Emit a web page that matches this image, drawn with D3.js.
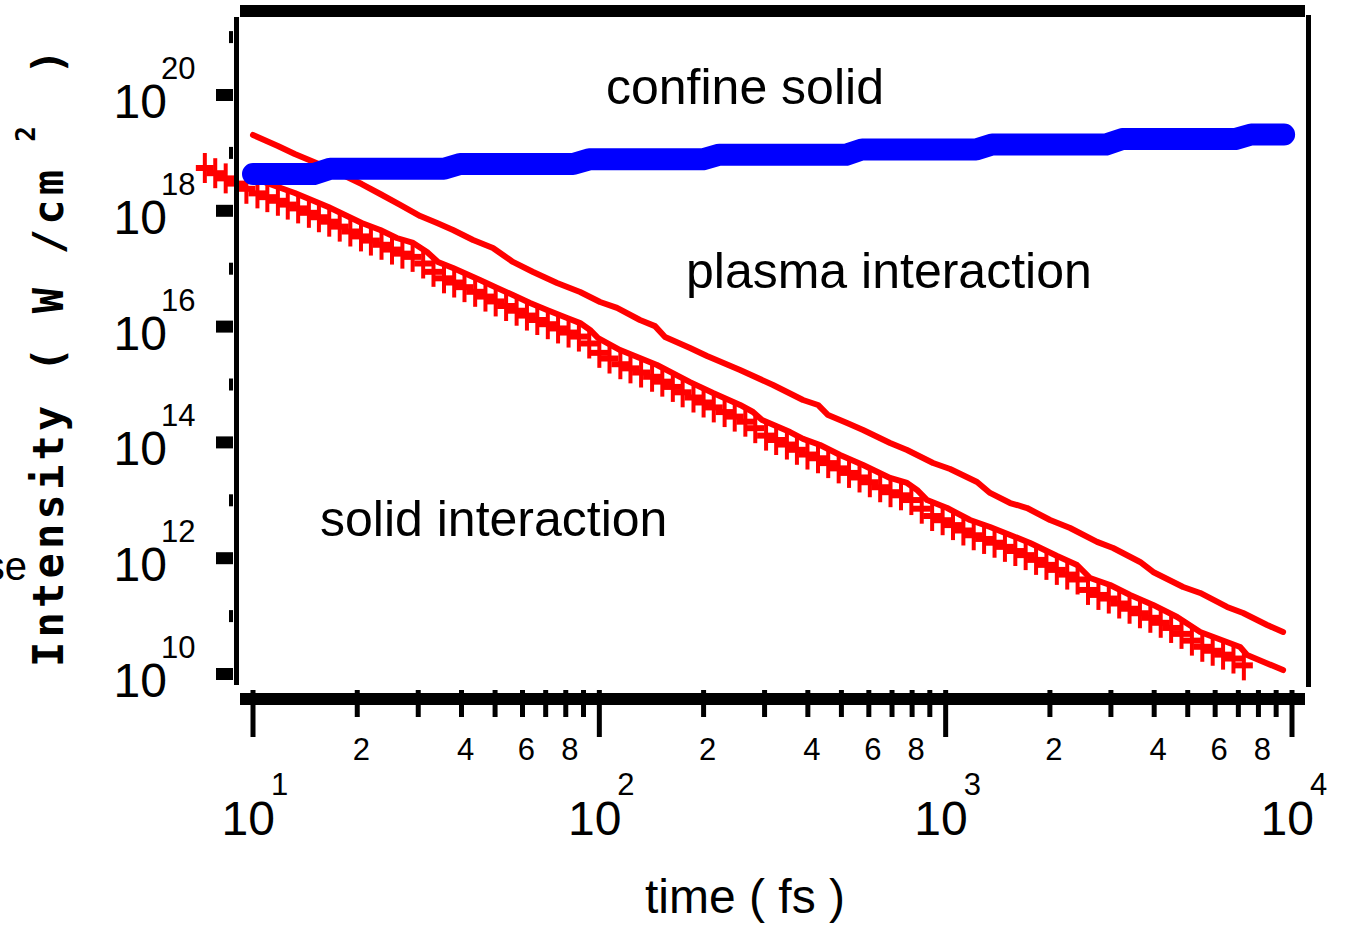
<!DOCTYPE html>
<html>
<head>
<meta charset="utf-8">
<script src="https://cdn.jsdelivr.net/npm/d3@7"></script>
<style>
body { margin: 0; background: #ffffff; }
text { font-family: "Liberation Sans", Arial, sans-serif; fill: #000000; }
</style>
</head>
<body>
<script>
// upper solid red curve
let upperTime = [10, 11.8, 13.2, 16.5, 20.6, 23.3, 26.6, 30.4, 34.0, 37.8, 43.2, 49.3, 52.7, 56.3, 64.4,
  75.5, 88.0, 100.5, 112.5, 131, 144.8, 154.8, 182.8, 204.6, 254.9, 317.4, 387.4, 428, 457.6, 519.2,
  577.5, 691, 773.6, 919.7, 1030, 1232, 1343, 1535, 1718, 2002, 2287, 2736, 3044, 3642, 3972,
  4850, 5430, 6495, 7225, 8475, 9425];
let upperIntensity = [2.04e19, 1.32e19, 9.58e18, 5.48e18, 2.90e18, 1.95e18, 1.26e18, 8.13e17, 6.15e17, 4.66e17,
  3.13e17, 2.28e17, 1.72e17, 1.31e17, 8.77e16, 5.66e16, 3.96e16, 2.66e16, 2.10e16, 1.30e16,
  1.02e16, 6.61e15, 4.27e15, 3.11e15, 1.78e15, 9.80e14, 5.40e14, 4.43e14, 2.97e14, 2.16e14,
  1.64e14, 9.77e13, 7.39e13, 4.41e13, 3.47e13, 2.07e13, 1.34e13, 8.98e12, 7.36e12, 4.57e12,
  3.32e12, 1.91e12, 1.50e12, 8.60e11, 5.78e11, 3.18e11, 2.51e11, 1.44e11, 1.13e11, 7.02e10, 5.32e10];

// lower solid red curve
let lowerTime = [10, 13.2, 16.5, 20.6, 23.3, 26.0, 29.0, 31.8, 34.2, 37.8, 45.2, 50.7, 56.3, 63.1, 70.6,
  80.7, 88.0, 94.0, 99.2, 114.8, 146.7, 182.8, 213, 254.9, 277.8, 295, 355.4, 387.4, 433.9, 495.6,
  577.5, 691, 773.6, 826.7, 883.8, 1010, 1176, 1343, 1535, 1753, 2098, 2396, 2612, 2984, 3408,
  3972, 4660, 5430, 7083, 7420, 9425];
let lowerIntensity = [3.69e18, 2.03e18, 1.16e18, 6.15e17, 4.66e17, 3.39e17, 2.78e17, 1.94e17, 1.31e17, 1.03e17,
  6.38e16, 4.64e16, 3.52e16, 2.56e16, 1.94e16, 1.41e16, 1.15e16, 8.74e15, 6.35e15, 3.94e15,
  2.17e15, 1.10e15, 7.13e14, 4.43e14, 3.35e14, 2.44e14, 1.51e14, 1.15e14, 9.02e13, 6.06e13,
  4.07e13, 2.43e13, 1.99e13, 1.51e13, 1.01e13, 7.36e12, 4.57e12, 3.46e12, 2.52e12, 1.83e12,
  1.09e12, 7.63e11, 4.55e11, 3.44e11, 2.31e11, 1.56e11, 9.66e10, 5.32e10, 2.93e10, 2.13e10, 1.17e10];

// "+" marker series
let markerTime = [7.26, 7.78, 8.34, 8.93, 9.57, 10.3, 11.0, 11.8, 12.6, 13.5,
  14.5, 15.5, 16.6, 17.8, 19.1, 20.5, 21.9, 23.5, 25.2, 27.0,
  28.9, 31.0, 33.2, 35.6, 38.1, 40.8, 43.8, 46.9, 50.2, 53.8,
  57.7, 61.8, 66.2, 71.0, 76.0, 81.5, 87.3, 93.5, 100, 107,
  115, 123, 132, 142, 152, 163, 174, 187, 200, 214,
  230, 246, 264, 282, 303, 324, 348, 372, 399, 428,
  458, 491, 526, 564, 604, 647, 693, 743, 796, 853,
  914, 980, 1050, 1125, 1205, 1291, 1384, 1483, 1589, 1702,
  1824, 1954, 2094, 2244, 2404, 2576, 2761, 2958, 3170, 3396,
  3639, 3899, 4178, 4477, 4797, 5140, 5508, 5902, 6324, 6776, 7261];
let markerIntensity = [5.48e18, 4.46e18, 3.63e18, 2.95e18, 2.40e18, 2.00e18, 1.72e18, 1.49e18, 1.28e18, 1.10e18,
  9.23e17, 7.74e17, 6.49e17, 5.33e17, 4.39e17, 3.61e17, 3.06e17, 2.59e17, 2.14e17, 1.82e17,
  1.60e17, 1.23e17, 8.83e16, 6.82e16, 5.77e16, 4.80e16, 3.99e16, 3.30e16, 2.72e16, 2.27e16,
  1.88e16, 1.55e16, 1.30e16, 1.10e16, 9.29e15, 7.89e15, 6.73e15, 5.11e15, 3.52e15, 2.81e15,
  2.24e15, 1.90e15, 1.61e15, 1.36e15, 1.12e15, 9.08e14, 7.33e14, 5.96e14, 4.89e14, 4.02e14,
  3.34e14, 2.79e14, 2.28e14, 1.76e14, 1.31e14, 1.10e14, 9.18e13, 7.45e13, 6.17e13, 5.32e13,
  4.39e13, 3.56e13, 2.97e13, 2.48e13, 2.05e13, 1.68e13, 1.38e13, 1.22e13, 1.01e13, 7.16e12,
  5.35e12, 4.53e12, 3.73e12, 3.01e12, 2.49e12, 2.15e12, 1.85e12, 1.57e12, 1.33e12, 1.13e12,
  9.35e11, 7.67e11, 6.28e11, 5.21e11, 4.29e11, 2.83e11, 2.32e11, 2.01e11, 1.65e11, 1.34e11,
  1.12e11, 9.35e10, 7.66e10, 6.24e10, 4.93e10, 3.77e10, 2.95e10, 2.52e10, 2.16e10, 1.85e10, 1.41e10];

// thick blue stepped curve
let blueTime = [10, 15.0, 16.7, 35.6, 39.6, 84.0, 93.4, 199, 222, 516, 574, 1224, 1361, 2905, 3232, 6850, 7621, 9490];
let blueIntensity = [4.33e18, 4.33e18, 5.33e18, 5.33e18, 6.43e18, 6.43e18, 7.74e18, 7.74e18, 9.31e18, 9.31e18,
  1.15e19, 1.15e19, 1.40e19, 1.40e19, 1.73e19, 1.73e19, 2.08e19, 2.08e19];

// ticks
let xMajorTicks = [10, 100, 1000, 10000];
let xMinorTicks = [20, 30, 40, 50, 60, 70, 80, 90, 200, 300, 400, 500, 600, 700, 800, 900,
  2000, 3000, 4000, 5000, 6000, 7000, 8000, 9000];
let xMinorLabels = [2, 4, 6, 8];
let yMajorTicks = [1e10, 1e12, 1e14, 1e16, 1e18, 1e20];
let yMinorTicks = [1e11, 1e13, 1e15, 1e17, 1e19, 1e21];

let body = d3.select("body");
let width = 1346;
let height = 925;

let svg = body.append("svg").attr("width", width).attr("height", height);

let x = d3.scaleLog().domain([10, 10000]).range([253, 1292]);
let y = d3.scaleLog().domain([1e10, 1e20]).range([674, 95]);

let line = d3.line().x(d => x(d[0])).y(d => y(d[1]));

// red curves
svg.append("path")
  .datum(d3.zip(upperTime, upperIntensity))
  .attr("d", line)
  .attr("fill", "none")
  .attr("stroke", "#ff0000")
  .attr("stroke-width", 6)
  .attr("stroke-linejoin", "round")
  .attr("stroke-linecap", "round");

svg.append("path")
  .datum(d3.zip(lowerTime, lowerIntensity))
  .attr("d", line)
  .attr("fill", "none")
  .attr("stroke", "#ff0000")
  .attr("stroke-width", 6)
  .attr("stroke-linejoin", "round")
  .attr("stroke-linecap", "round");

// + markers
let markers = svg.append("g")
  .selectAll("g")
  .data(d3.zip(markerTime, markerIntensity))
  .join("g")
  .attr("transform", d => "translate(" + x(d[0]) + "," + y(d[1]) + ")");

markers.append("line")
  .attr("x1", -9).attr("x2", 9)
  .attr("stroke", "#ff0000")
  .attr("stroke-width", 6);

markers.append("line")
  .attr("y1", -15).attr("y2", 15)
  .attr("stroke", "#ff0000")
  .attr("stroke-width", 4);

// blue curve
svg.append("path")
  .datum(d3.zip(blueTime, blueIntensity))
  .attr("d", line)
  .attr("fill", "none")
  .attr("stroke", "#0000ff")
  .attr("stroke-width", 22)
  .attr("stroke-linejoin", "round")
  .attr("stroke-linecap", "round");

// frame
svg.append("line").attr("x1", 240).attr("x2", 1305).attr("y1", 11).attr("y2", 11)
  .attr("stroke", "#000").attr("stroke-width", 12);
svg.append("line").attr("x1", 240).attr("x2", 1305).attr("y1", 699).attr("y2", 699)
  .attr("stroke", "#000").attr("stroke-width", 12);
svg.append("line").attr("x1", 236.5).attr("x2", 236.5).attr("y1", 17).attr("y2", 685)
  .attr("stroke", "#000").attr("stroke-width", 5);
svg.append("line").attr("x1", 1308.5).attr("x2", 1308.5).attr("y1", 15).attr("y2", 687)
  .attr("stroke", "#000").attr("stroke-width", 5);

// x ticks
svg.append("g").selectAll("line")
  .data(xMajorTicks)
  .join("line")
  .attr("x1", d => x(d)).attr("x2", d => x(d))
  .attr("y1", 690).attr("y2", 737)
  .attr("stroke", "#000").attr("stroke-width", 5);

svg.append("g").selectAll("line")
  .data(xMinorTicks)
  .join("line")
  .attr("x1", d => x(d)).attr("x2", d => x(d))
  .attr("y1", 690).attr("y2", 717)
  .attr("stroke", "#000").attr("stroke-width", 5);

let mantissa = d => Math.round(d / Math.pow(10, Math.floor(Math.log10(d) + 1e-9)));

svg.append("g").selectAll("text")
  .data(xMinorTicks.filter(d => xMinorLabels.includes(mantissa(d))))
  .join("text")
  .attr("x", d => x(d) + 4)
  .attr("y", 760)
  .attr("text-anchor", "middle")
  .attr("font-size", 31)
  .text(d => mantissa(d));

let xLabels = svg.append("g").selectAll("g")
  .data(xMajorTicks)
  .join("g");
xLabels.append("text")
  .attr("x", d => x(d) + 22)
  .attr("y", 835)
  .attr("text-anchor", "end")
  .attr("font-size", 48)
  .text("10");
xLabels.append("text")
  .attr("x", d => x(d) + 18)
  .attr("y", 795)
  .attr("font-size", 31)
  .text(d => Math.round(Math.log10(d)));

// y ticks
svg.append("g").selectAll("line")
  .data(yMajorTicks)
  .join("line")
  .attr("x1", 216).attr("x2", 233)
  .attr("y1", d => y(d)).attr("y2", d => y(d))
  .attr("stroke", "#000").attr("stroke-width", 12);

svg.append("g").selectAll("line")
  .data(yMinorTicks)
  .join("line")
  .attr("x1", 229).attr("x2", 233)
  .attr("y1", d => y(d)).attr("y2", d => y(d))
  .attr("stroke", "#000").attr("stroke-width", 12);

let yLabels = svg.append("g").selectAll("g")
  .data(yMajorTicks)
  .join("g");
yLabels.append("text")
  .attr("x", 167)
  .attr("y", d => y(d) + 23)
  .attr("text-anchor", "end")
  .attr("font-size", 48)
  .text("10");
yLabels.append("text")
  .attr("x", 161)
  .attr("y", d => y(d) - 16)
  .attr("font-size", 31)
  .text(d => Math.round(Math.log10(d)));

// axis titles
svg.append("text")
  .attr("x", 745)
  .attr("y", 913)
  .attr("text-anchor", "middle")
  .attr("font-size", 48)
  .text("time ( fs )");

let yTitle = svg.append("text")
  .attr("transform", "translate(63,667) rotate(-90)")
  .style("font-family", "'DejaVu Sans Mono', monospace")
  .style("font-weight", "bold")
  .style("letter-spacing", "4.2px")
  .attr("font-size", 42);
yTitle.append("tspan").text("Intensity ( W /cm");
yTitle.append("tspan").attr("dx", 24).attr("dy", -28).attr("font-size", 26).text("2");
yTitle.append("tspan").attr("dx", 18).attr("dy", 28).text(" )");

// clipped label at the left edge
svg.append("text")
  .attr("x", 27)
  .attr("y", 580)
  .attr("text-anchor", "end")
  .attr("font-size", 40)
  .text("se");

// region annotations
svg.append("text").attr("x", 606).attr("y", 104).attr("font-size", 50).text("confine solid");
svg.append("text").attr("x", 686).attr("y", 288).attr("font-size", 50).text("plasma interaction");
svg.append("text").attr("x", 320).attr("y", 536).attr("font-size", 50).text("solid interaction");
</script>
</body>
</html>
